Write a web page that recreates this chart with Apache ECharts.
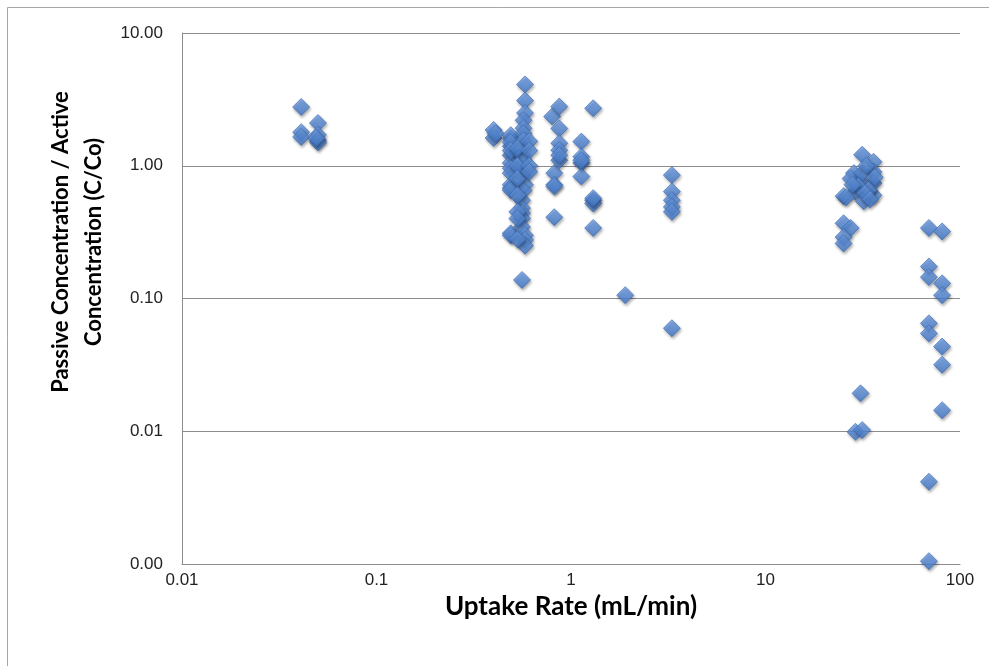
<!DOCTYPE html>
<html>
<head>
<meta charset="utf-8">
<script src="https://cdn.jsdelivr.net/npm/echarts@6/dist/echarts.min.js"></script>
<style>
  html, body { margin: 0; padding: 0; background: #fff; }
  #chart { width: 989px; height: 666px; }
</style>
</head>
<body>
<div id="chart"></div>
<script>
// Uptake rate (mL/min) for each sampler measurement
const uptakeRate = [
  0.041, 0.041, 0.041, 0.05, 0.05, 0.05, 0.05, 0.049,
  0.40, 0.40, 0.41,
  0.49, 0.49, 0.49, 0.49, 0.49, 0.49, 0.49, 0.49, 0.49, 0.49, 0.49, 0.49, 0.49, 0.49,
  0.58, 0.58, 0.58, 0.57, 0.57, 0.57, 0.57, 0.56, 0.56, 0.57, 0.58, 0.56, 0.58, 0.57, 0.56, 0.56, 0.56, 0.56, 0.56, 0.58, 0.58, 0.58, 0.56,
  0.53, 0.53, 0.53, 0.53, 0.53, 0.53, 0.53,
  0.61, 0.61, 0.61, 0.61,
  0.82, 0.82, 0.82, 0.82, 0.80, 0.87, 0.87, 0.87, 0.87, 0.87, 0.87,
  1.13, 1.13, 1.13, 1.13, 1.13,
  1.30, 1.30, 1.30, 1.30, 1.30,
  1.90,
  3.30, 3.30, 3.30, 3.30, 3.30, 3.30,
  31.4, 35.9, 28.5, 27.4, 31.4, 35.9, 25.2, 29.0, 32.0, 35.9, 35.9, 31.4, 33.0, 30.0, 34.0, 36.5, 28.0, 32.5, 34.5, 26.0,
  25.2, 27.4, 25.2, 25.2, 30.8, 29.0, 31.4,
  69.2, 80.9, 69.2, 69.2, 80.9, 80.9, 69.2, 69.2, 80.9, 80.9, 80.9, 69.2, 69.2
];

// Passive / active concentration ratio (C/Co) for the same measurements
const concRatio = [
  2.77, 1.79, 1.65, 2.10, 1.71, 1.56, 1.50, 1.62,
  1.86, 1.62, 1.75,
  1.60, 1.40, 1.20, 1.05, 0.957, 0.88, 0.72, 0.68, 0.656, 0.31, 0.30, 1.70, 1.50, 1.30,
  4.10, 3.10, 2.50, 2.20, 1.92, 1.75, 1.55, 1.35, 1.20, 1.10, 0.96, 0.85, 0.72, 0.65, 0.55, 0.48, 0.44, 0.40, 0.346, 0.30, 0.276, 0.25, 0.138,
  1.35, 1.00, 0.80, 0.60, 0.45, 0.40, 0.28,
  1.53, 1.30, 1.00, 0.90,
  0.88, 0.72, 0.41, 0.70, 2.35, 2.79, 1.91, 1.48, 1.31, 1.10, 1.20,
  1.52, 1.17, 1.05, 0.83, 1.10,
  2.71, 0.55, 0.52, 0.34, 0.57,
  0.106,
  0.85, 0.64, 0.55, 0.49, 0.45, 0.0597,
  1.21, 1.07, 0.88, 0.80, 0.74, 0.90, 0.59, 0.64, 0.54, 0.60, 0.74, 0.88, 1.00, 0.70, 0.66, 0.82, 0.72, 0.62, 0.56, 0.58,
  0.369, 0.34, 0.29, 0.26, 0.0193, 0.0099, 0.0102,
  0.34, 0.32, 0.174, 0.145, 0.130, 0.106, 0.065, 0.0546, 0.0434, 0.0317, 0.0144, 0.00417, 0.00105
];

const xTickLabels = ['0.01', '0.1', '1', '10', '100'];
const yTickLabels = ['0.00', '0.01', '0.10', '1.00', '10.00'];
const xTitle = 'Uptake Rate (mL/min)';
const yTitleLines = ['Passive Concentration / Active', 'Concentration (C/Co)'];

const points = uptakeRate.map((x, i) => [x, concRatio[i]]);

const chart = echarts.init(document.getElementById('chart'), null, { renderer: 'canvas' });

const labelFont = '"Liberation Sans", Arial, sans-serif';
const titleFont = 'Lato, "Open Sans", sans-serif';

chart.setOption({
  animation: false,
  backgroundColor: '#ffffff',
  graphic: [
    {
      // outer frame around the chart area
      type: 'rect',
      shape: { x: 7.5, y: 7.5, width: 1000, height: 700 },
      style: { fill: 'none', stroke: '#a6a6a6', lineWidth: 1 },
      silent: true
    },
    {
      // vertical axis title, two lines
      type: 'text',
      x: 77,
      y: 242,
      rotation: Math.PI / 2,
      silent: true,
      style: {
        text: yTitleLines.join('\n'),
        fontFamily: titleFont,
        fontWeight: 'bold',
        fontSize: 22,
        fill: '#000',
        align: 'center',
        verticalAlign: 'middle',
        lineHeight: 33
      }
    }
  ],
  grid: { left: 182, right: 29, top: 33, bottom: 102, containLabel: false },
  xAxis: {
    type: 'log',
    logBase: 10,
    min: 0.01,
    max: 100,
    name: xTitle,
    nameLocation: 'middle',
    nameGap: 21,
    nameTextStyle: { fontFamily: titleFont, fontWeight: 'bold', fontSize: 26, color: '#000' },
    axisLine: { show: true, lineStyle: { color: '#8c8c8c', width: 1 } },
    axisTick: { show: false },
    splitLine: { show: false },
    minorTick: { show: false },
    axisLabel: {
      margin: 8,
      fontFamily: labelFont,
      fontSize: 17,
      color: '#222',
      formatter: (v) => {
        const idx = Math.round(Math.log10(v)) + 2;
        return xTickLabels[idx] !== undefined ? xTickLabels[idx] : '';
      }
    }
  },
  yAxis: {
    type: 'log',
    logBase: 10,
    min: 0.001,
    max: 10,
    axisLine: { show: true, lineStyle: { color: '#8c8c8c', width: 1 } },
    axisTick: { show: false },
    splitLine: { show: true, lineStyle: { color: '#8c8c8c', width: 1 } },
    axisLabel: {
      margin: 19,
      fontFamily: labelFont,
      fontSize: 17,
      color: '#222',
      formatter: (v) => {
        const idx = Math.round(Math.log10(v)) + 3;
        return yTickLabels[idx] !== undefined ? yTickLabels[idx] : '';
      }
    }
  },
  series: [{
    type: 'scatter',
    symbol: 'diamond',
    symbolSize: 17,
    data: points,
    itemStyle: {
      color: new echarts.graphic.LinearGradient(0, 0, 0, 1, [
        { offset: 0, color: '#72a3ea' },
        { offset: 1, color: '#3f76c8' }
      ]),
      borderColor: '#3a68b0',
      borderWidth: 0.8,
      shadowBlur: 3,
      shadowOffsetX: 1,
      shadowOffsetY: 2,
      shadowColor: 'rgba(0,0,0,0.4)'
    }
  }]
});
</script>
</body>
</html>
